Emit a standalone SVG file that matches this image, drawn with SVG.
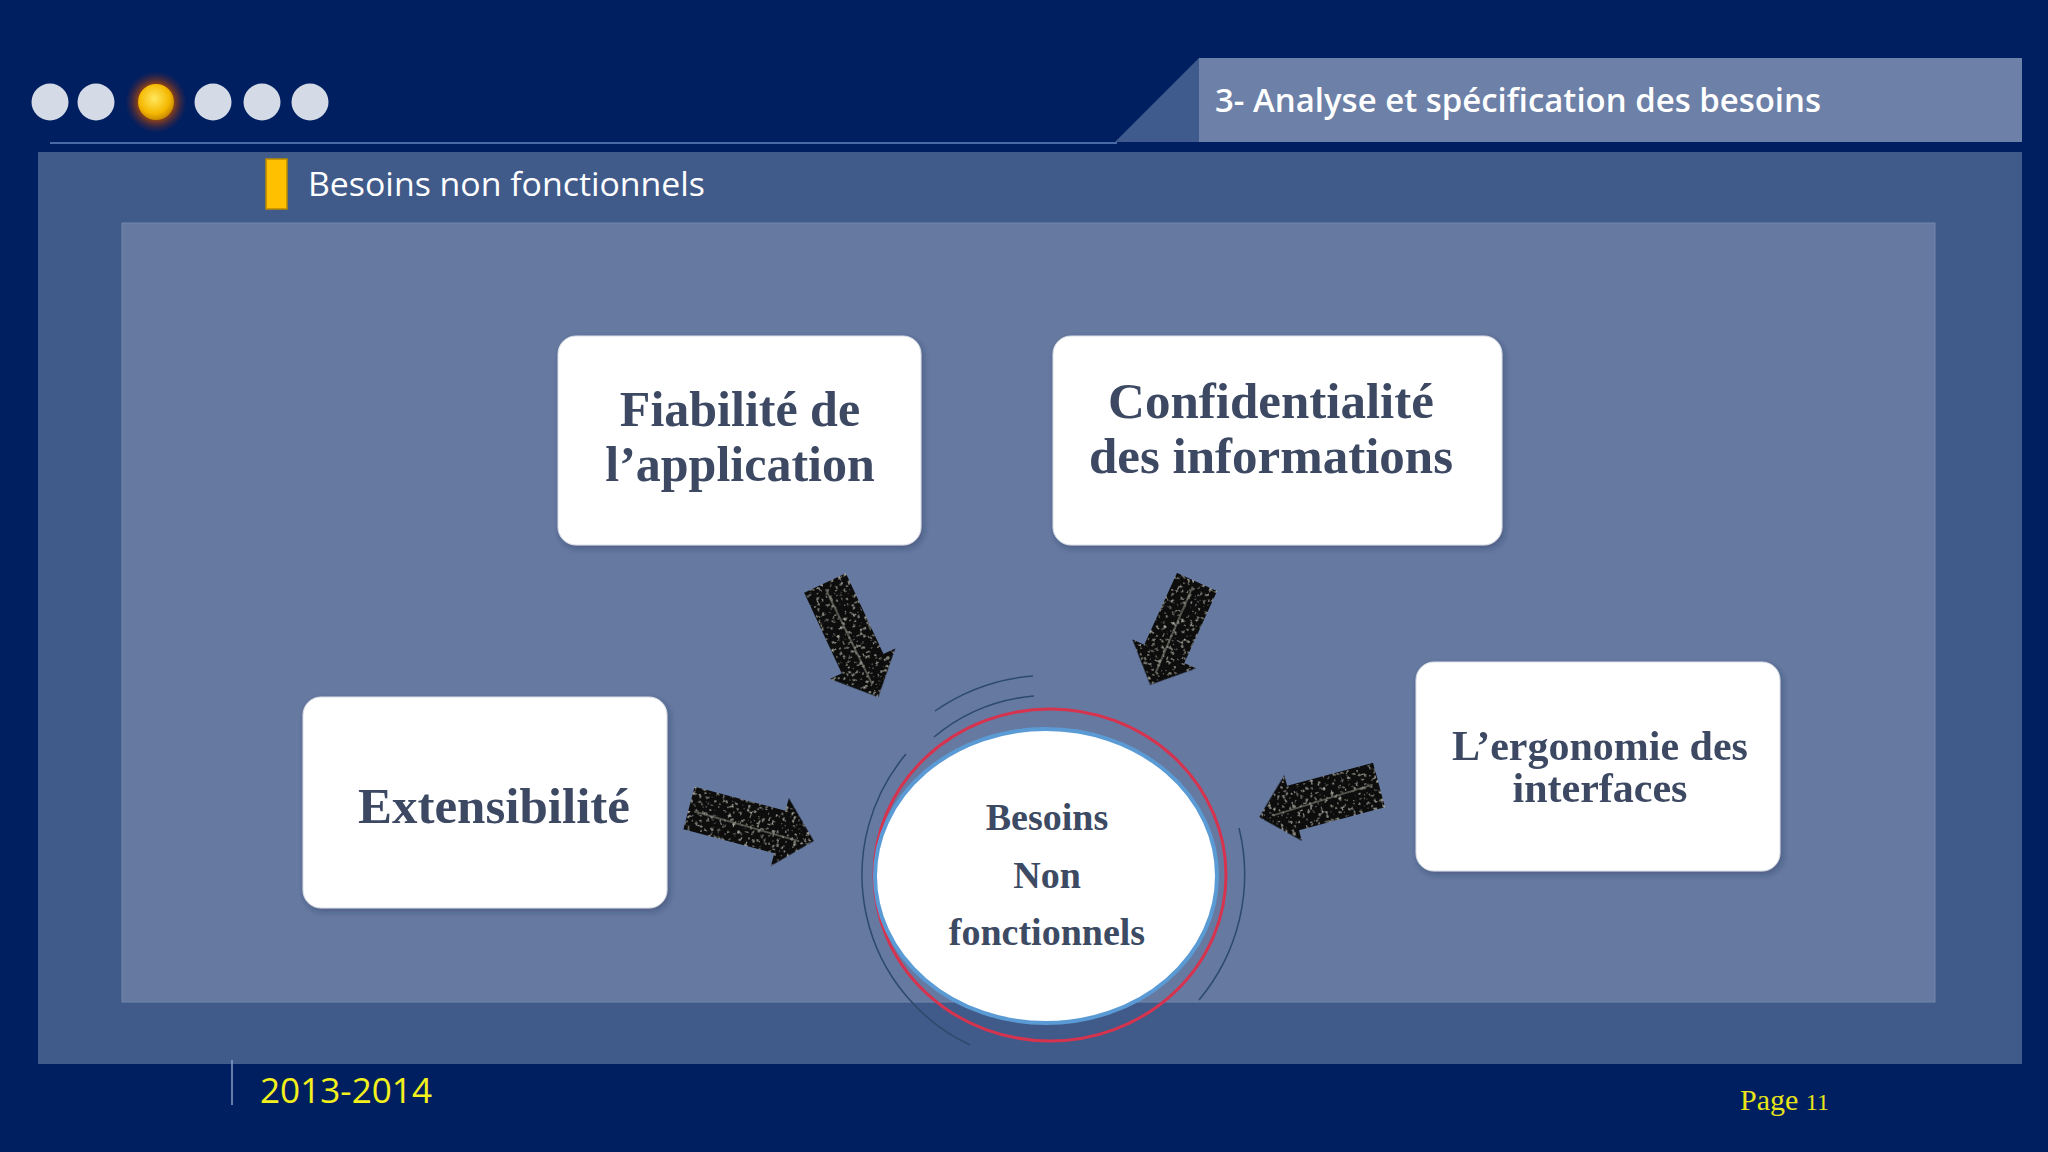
<svg xmlns="http://www.w3.org/2000/svg" width="2048" height="1152" viewBox="0 0 2048 1152">
<defs>
<style>
.box{fill:#ffffff;stroke:#d8dde6;stroke-width:1}
.btxt{font-family:"Liberation Serif","Times New Roman",serif;font-weight:bold;fill:#3d4a63;text-anchor:middle}
.dot{fill:#d4dbe6}
.arrow{fill:#0d0d0d;filter:url(#tex)}
.spine{stroke:#8a8a80;stroke-width:2;stroke-opacity:0.55;fill:none}
.arc{fill:none;stroke:#2c4a6c;stroke-width:1.5}
</style>
<filter id="tex" x="-10%" y="-10%" width="120%" height="120%">
<feTurbulence type="fractalNoise" baseFrequency="0.3" numOctaves="2" seed="3" result="n"/>
<feColorMatrix in="n" type="matrix" values="0 0 0 0 0.45  0 0 0 0 0.45  0 0 0 0 0.4  0 0 0 5 -3.1" result="sp"/>
<feComposite in="sp" in2="SourceGraphic" operator="in" result="spk"/>
<feMerge><feMergeNode in="SourceGraphic"/><feMergeNode in="spk"/></feMerge>
</filter>
<radialGradient id="sun" cx="0.45" cy="0.4" r="0.6">
<stop offset="0" stop-color="#ffe860"/>
<stop offset="0.7" stop-color="#f5b800"/>
<stop offset="1" stop-color="#c98a00"/>
</radialGradient>
<radialGradient id="glow" cx="0.5" cy="0.5" r="0.5">
<stop offset="0.6" stop-color="#8a4018" stop-opacity="0.95"/>
<stop offset="1" stop-color="#4a2040" stop-opacity="0"/>
</radialGradient>
<filter id="sh" x="-10%" y="-10%" width="120%" height="120%">
<feDropShadow dx="2" dy="3" stdDeviation="3" flood-color="#1a2a50" flood-opacity="0.35"/>
</filter>
</defs>

<!-- background -->
<rect x="0" y="0" width="2048" height="1152" fill="#001f60"/>

<!-- header -->
<g id="header">
<circle class="dot" cx="50" cy="102" r="18.5"/>
<circle class="dot" cx="96" cy="102" r="18.5"/>
<circle cx="156" cy="102" r="31" fill="url(#glow)"/>
<circle cx="156" cy="102" r="18" fill="url(#sun)"/>
<circle class="dot" cx="213" cy="102" r="18.5"/>
<circle class="dot" cx="262" cy="102" r="18.5"/>
<circle class="dot" cx="310" cy="102" r="18.5"/>
<line x1="50" y1="143" x2="1117" y2="143" stroke="#4a6aa6" stroke-width="2"/>
<polygon points="1115,142 1199,58 1199,142" fill="#3f5a8c"/>
<rect x="1199" y="58" width="823" height="84" fill="#6d80a8"/>
<text x="1215" y="112" font-family="'Open Sans','Liberation Sans',sans-serif" font-weight="600" font-size="33" fill="#ffffff" textLength="606" lengthAdjust="spacingAndGlyphs">3- Analyse et spécification des besoins</text>
</g>

<!-- panels -->
<rect x="38" y="152" width="1984" height="912" fill="#405a8a"/>
<rect x="122" y="223" width="1813" height="779" fill="#6679a0" stroke="#7388ad" stroke-width="1"/>

<g id="subtitle">
<rect x="266" y="159" width="21" height="50" fill="#ffc000" stroke="#b88a00" stroke-width="1.5"/>
<text x="308" y="196" font-family="'Open Sans','Liberation Sans',sans-serif" font-size="33" fill="#ffffff" textLength="397" lengthAdjust="spacingAndGlyphs">Besoins non  fonctionnels</text>
</g>

<!-- nodes -->
<g id="node-fiabilite" filter="url(#sh)">
<rect class="box" x="558" y="336" width="363" height="209" rx="18"/>
<text class="btxt" x="740" y="426" font-size="50">Fiabilité de</text>
<text class="btxt" x="740" y="481" font-size="50">l’application</text>
</g>
<g id="node-confidentialite" filter="url(#sh)">
<rect class="box" x="1053" y="336" width="449" height="209" rx="18"/>
<text class="btxt" x="1271" y="418" font-size="51">Confidentialité</text>
<text class="btxt" x="1271" y="473" font-size="51">des informations</text>
</g>
<g id="node-extensibilite" filter="url(#sh)">
<rect class="box" x="303" y="697" width="364" height="211" rx="18"/>
<text class="btxt" x="494" y="823" font-size="51">Extensibilité</text>
</g>
<g id="node-ergonomie" filter="url(#sh)">
<rect class="box" x="1416" y="662" width="364" height="209" rx="18"/>
<text class="btxt" x="1600" y="760" font-size="42">L’ergonomie des</text>
<text class="btxt" x="1600" y="802" font-size="42">interfaces</text>
</g>

<!-- connectors -->
<g id="connectors">
<g transform="translate(825,583) rotate(65)">
<polygon class="arrow" points="0,-23 89,-23 89,-36 126,0 89,36 89,23 0,23"/>
<line class="spine" x1="6" y1="2" x2="112" y2="0"/>
</g>
<g transform="translate(1197,582) rotate(114.5)">
<polygon class="arrow" points="0,-22 79,-22 79,-35 113,0 79,35 79,22 0,22"/>
<line class="spine" x1="6" y1="2" x2="100" y2="0"/>
</g>
<g transform="translate(689,808) rotate(14.8)">
<polygon class="arrow" points="0,-22 94,-22 94,-35 129,0 94,35 94,22 0,22"/>
<line class="spine" x1="6" y1="2" x2="115" y2="4"/>
</g>
<g transform="translate(1379,785) rotate(165)">
<polygon class="arrow" points="0,-23 89,-23 89,-34 124,0 89,34 89,23 0,23"/>
<line class="spine" x1="6" y1="2" x2="110" y2="-2"/>
</g>
</g>

<!-- central node -->
<g id="node-center">
<path class="arc" d="M 935 711 A 200 200 0 0 1 1033 676"/>
<path class="arc" d="M 934 737 A 180 180 0 0 1 1034 696" stroke-width="1"/>
<path class="arc" d="M 906 754 A 188 188 0 0 0 970 1045"/>
<path class="arc" d="M 1239 828 A 195 195 0 0 1 1199 1000"/>
<ellipse cx="1050" cy="875" rx="176" ry="166" fill="none" stroke="#d6334f" stroke-width="3"/>
<ellipse cx="1046" cy="876" rx="171" ry="147" fill="#ffffff" stroke="#5b9bd5" stroke-width="4"/>
<text class="btxt" x="1047" y="830" font-size="38">Besoins</text>
<text class="btxt" x="1047" y="888" font-size="38">Non</text>
<text class="btxt" x="1047" y="945" font-size="38">fonctionnels</text>
</g>

<!-- footer -->
<g id="footer">
<line x1="232" y1="1060" x2="232" y2="1105" stroke="#8c9cc0" stroke-width="1.5"/>
<text x="260" y="1103" font-family="'Open Sans','Liberation Sans',sans-serif" font-size="35" fill="#f4f01c" textLength="172" lengthAdjust="spacingAndGlyphs">2013-2014</text>
<text x="1740" y="1110" font-family="'Liberation Serif',serif" font-size="30" fill="#e8e418">Page <tspan font-size="24">11</tspan></text>
</g>
</svg>
